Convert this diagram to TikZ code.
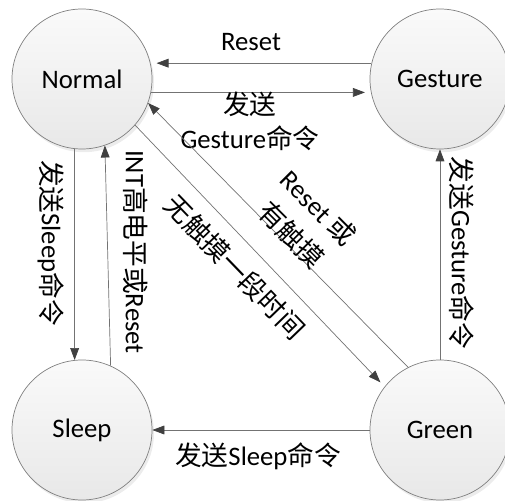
\documentclass[tikz,border=0pt]{standalone}
\usepackage{fontspec}
\setmainfont{Carlito}
\newfontfamily\cjk{Noto Sans CJK SC}
\newcommand{\zh}[1]{{\cjk #1}}
\usetikzlibrary{arrows.meta,shadows}

\tikzset{
  statecircle/.style={circle, draw=black!50, line width=0.5pt,
    minimum size=35mm, inner sep=0pt,
    top color=black!2, bottom color=black!9,
    drop shadow={opacity=0.15, shadow xshift=0.5mm, shadow yshift=-0.8mm}},
  trans/.style={draw=black!55, line width=0.5pt,
    -{Triangle[length=3mm,width=2.2mm,color=black!75]}},
  lbl/.style={inner sep=0pt, align=center}
}

\begin{document}
\begin{tikzpicture}[x=0.25mm, y=-0.25mm, font=\fontsize{19}{24}\selectfont]

  \useasboundingbox (0,0) rectangle (505,501);

  % the four states
  \node[statecircle] (normal)  at (82,79)   {Normal};
  \node[statecircle] (gesture) at (440,79)  {Gesture};
  \node[statecircle] (sleep)   at (82,430)  {Sleep};
  \node[statecircle] (green)   at (440,430) {Green};

  % Normal <-> Gesture
  \draw[trans, shorten >=1.5mm] (gesture.167) -- (normal.13) ;
  \node[lbl] (l-reset) at (251,42) {Reset};
  \draw[trans, shorten >=1.5mm] (normal.-11) -- (gesture.191) ;
  \node[lbl] (l-togesture) at (250,121) {\zh{发送}\\Gesture\zh{命令}};

  % Normal <-> Sleep
  \draw[trans] (normal.264) -- (sleep.96) ;
  \node[lbl, rotate=-90] (l-tosleep) at (51,243) {\zh{发送}Sleep\zh{命令}};
  \draw[trans] (sleep.66) -- (normal.-71) ;
  \node[lbl, rotate=-90] (l-int) at (136,252) {INT\zh{高电平或}Reset};

  % Normal <-> Green
  \draw[trans, shorten >=1.5mm] (normal.-41) -- (green.142) ;
  \node[lbl, rotate=-46] (l-notouch) at (235,267) {\zh{无触摸一段时间}};
  \draw[trans] (green.117) -- (normal.-20) ;
  \node[lbl, rotate=-45] (l-touch) at (305,221) {Reset \zh{或}\\[3pt]\zh{有触摸}};

  % Green -> Gesture
  \draw[trans] (green.north) -- (gesture.south) ;
  \node[lbl, rotate=-90] (l-gesture) at (462,253) {\zh{发送}Gesture\zh{命令}};

  % Green -> Sleep
  \draw[trans] (green.west) -- (sleep.east) ;
  \node[lbl] (l-sleep) at (258,456) {\zh{发送}Sleep\zh{命令}};

\end{tikzpicture}
\end{document}
